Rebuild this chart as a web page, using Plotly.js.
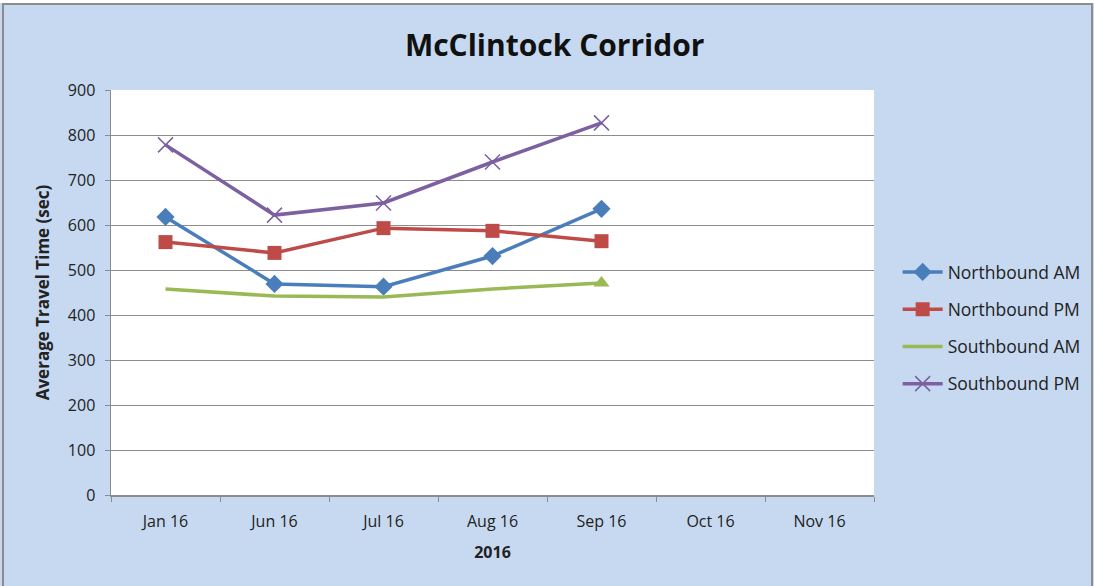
<!DOCTYPE html>
<html>
<head>
<meta charset="utf-8">
<script src="https://cdn.plot.ly/plotly-3.0.1.min.js"></script>
<style>
  body { margin: 0; background: #fff; }
  #plot { position: absolute; left: 0; top: 0; width: 1094px; height: 586px; }
  #frame { position: absolute; left: 2px; top: 3px; width: 1087px; height: 590px;
           border: 2px solid #8c8c8c; pointer-events: none; }
  #band { position: absolute; left: 0; top: 0; width: 1094px; height: 3px; background: #fff; }
</style>
</head>
<body>
<div id="plot"></div>
<div id="band"></div>
<div id="frame"></div>
<script>
// months on the category axis
var months = ["Jan 16", "Jun 16", "Jul 16", "Aug 16", "Sep 16", "Oct 16", "Nov 16"];

// travel times (sec)
var nbAM = [618, 469, 463, 531, 636];
var nbPM = [562, 538, 593, 587, 564];
var sbAM = [458, 442, 440, 458, 471];
var sbPM = [778, 622, 649, 740, 827];

var font = "Open Sans, Liberation Sans, sans-serif";

var trace1 = {
  x: months.slice(0, nbAM.length),
  y: nbAM,
  mode: "lines+markers",
  type: "scatter",
  name: "Northbound AM",
  legendgroup: "a",
  line: { color: "#4a7ebb", width: 3.5 },
  marker: { color: "#4a7ebb", symbol: "diamond", size: 14 }
};

var trace2 = {
  x: months.slice(0, nbPM.length),
  y: nbPM,
  mode: "lines+markers",
  type: "scatter",
  name: "Northbound PM",
  legendgroup: "b",
  line: { color: "#be4b48", width: 3.5 },
  marker: { color: "#be4b48", symbol: "square", size: 14 }
};

var trace3 = {
  x: months.slice(0, sbAM.length),
  y: sbAM,
  mode: "lines",
  type: "scatter",
  name: "Southbound AM",
  legendgroup: "c",
  line: { color: "#98b954", width: 3.5 }
};

// only the last Southbound AM point carries a marker
var trace3end = {
  x: [months[sbAM.length - 1]],
  y: [sbAM[sbAM.length - 1]],
  mode: "markers",
  type: "scatter",
  showlegend: false,
  legendgroup: "c",
  marker: { color: "#98b954", symbol: "triangle-up", size: 14 }
};

var trace4 = {
  x: months.slice(0, sbPM.length),
  y: sbPM,
  mode: "lines+markers",
  type: "scatter",
  name: "Southbound PM",
  legendgroup: "d",
  line: { color: "#7d60a0", width: 3.5 },
  marker: { color: "#7d60a0", symbol: "x-thin", size: 15, line: { color: "#7d60a0", width: 1.5 } }
};

var data = [trace1, trace2, trace3, trace3end, trace4];

var layout = {
  width: 1094,
  height: 586,
  margin: { l: 111, r: 220, t: 90, b: 91, autoexpand: false },
  paper_bgcolor: "#c6d9f0",
  plot_bgcolor: "#ffffff",
  font: { family: font, color: "#222", size: 16 },
  title: {
    text: "<b>McClintock Corridor</b>",
    font: { family: font, size: 30, color: "#111" },
    x: 0.507, xanchor: "center", y: 0.922, yanchor: "middle"
  },
  xaxis: {
    type: "category",
    categoryorder: "array",
    categoryarray: months,
    range: [-0.5, 6.5],
    title: { text: "<b>2016</b>", font: { size: 16 }, standoff: 16 },
    showgrid: false,
    showline: true,
    linecolor: "#8c8c8c",
    linewidth: 1.5,
    ticks: "outside",
    tickson: "boundaries",
    ticklen: 5,
    tickcolor: "#8c8c8c",
    ticklabelstandoff: 11,
    zeroline: false,
    fixedrange: true
  },
  yaxis: {
    range: [0, 900],
    dtick: 100,
    title: { text: "<b>Average Travel Time (sec)</b>", font: { size: 17 }, standoff: 14 },
    showgrid: true,
    gridcolor: "#8c8c8c",
    gridwidth: 1,
    showline: true,
    linecolor: "#8c8c8c",
    linewidth: 1.5,
    ticks: "outside",
    ticklen: 5,
    tickcolor: "#8c8c8c",
    ticklabelstandoff: 6,
    zeroline: false,
    fixedrange: true
  },
  legend: {
    x: 1.031, xanchor: "left",
    y: 0.595, yanchor: "top",
    traceorder: "grouped",
    tracegroupgap: 11.5,
    itemwidth: 40,
    bgcolor: "rgba(0,0,0,0)",
    font: { size: 17.5, color: "#222" }
  },
  showlegend: true
};

Plotly.newPlot("plot", data, layout, { displayModeBar: false, staticPlot: true });
</script>
</body>
</html>
